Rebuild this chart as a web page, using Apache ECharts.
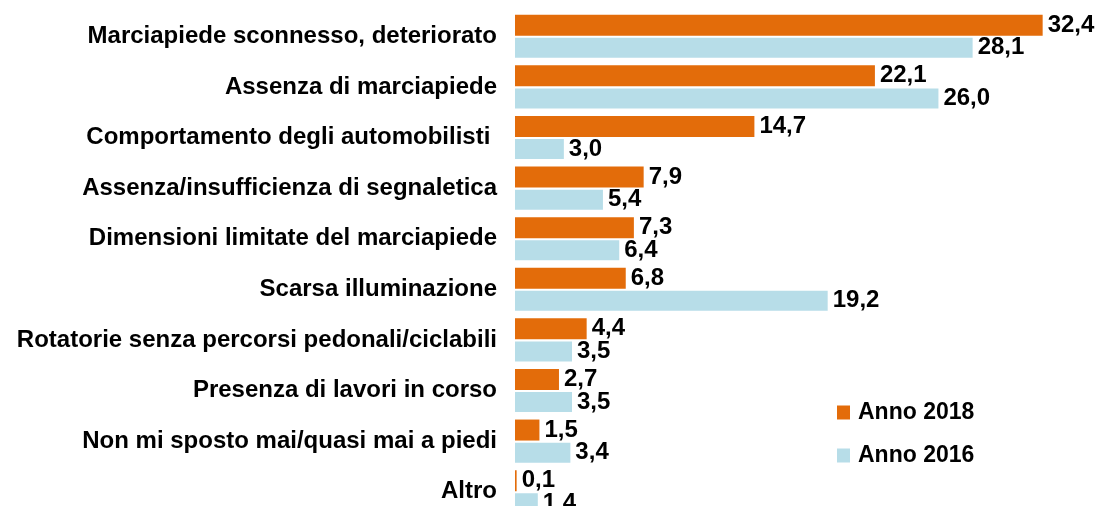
<!DOCTYPE html>
<html><head><meta charset="utf-8">
<script src="https://cdn.jsdelivr.net/npm/echarts@6/dist/echarts.min.js"></script>
<style>html,body{margin:0;padding:0;background:#fff}#c{width:1095px;height:506px}</style>
</head><body><div id="c"></div>
<script>
const categories = [
  'Marciapiede sconnesso, deteriorato',
  'Assenza di marciapiede',
  'Comportamento degli automobilisti ',
  'Assenza/insufficienza di segnaletica',
  'Dimensioni limitate del marciapiede',
  'Scarsa illuminazione',
  'Rotatorie senza percorsi pedonali/ciclabili',
  'Presenza di lavori in corso',
  'Non mi sposto mai/quasi mai a piedi',
  'Altro'
];
const anno2018 = [32.4, 22.1, 14.7, 7.9, 7.3, 6.8, 4.4, 2.7, 1.5, 0.1];
const anno2016 = [28.1, 26.0, 3.0, 5.4, 6.4, 19.2, 3.5, 3.5, 3.4, 1.4];
const seriesNames = ['Anno 2018', 'Anno 2016'];

const FONT = '"Liberation Sans", Arial, Helvetica, sans-serif';
const fmt = p => p.value.toFixed(1).replace('.', ',');
const chart = echarts.init(document.getElementById('c'), null, {renderer: 'canvas'});
chart.setOption({
  animation: false,
  backgroundColor: '#fff',
  textStyle: {fontFamily: FONT},
  grid: {left: 515, top: 11, width: 570, height: 506, containLabel: false, outerBoundsMode: 'none'},
  legend: {
    orient: 'vertical', left: 832, top: 396, itemGap: 20,
    itemWidth: 13, itemHeight: 14, icon: 'rect',
    textStyle: {fontFamily: FONT, fontWeight: 'bold', fontSize: 23, color: '#000', padding: [0,0,0,3]},
    data: seriesNames
  },
  xAxis: {type: 'value', min: 0, max: 35, show: false},
  yAxis: {
    type: 'category', inverse: true, data: categories,
    axisLine: {show: false}, axisTick: {show: false},
    axisLabel: {fontFamily: FONT, fontWeight: 'bold', fontSize: 24, color: '#000', margin: 18}
  },
  series: [
    {name: seriesNames[0], type: 'bar', data: anno2018, barWidth: 21, barGap: '10%',
     itemStyle: {color: '#E36C0A'},
     label: {show: true, position: 'right', distance: 5, formatter: fmt, fontFamily: FONT, fontWeight: 'bold', fontSize: 24, color: '#000'}},
    {name: seriesNames[1], type: 'bar', data: anno2016, barWidth: 20,
     itemStyle: {color: '#B7DDE8'},
     label: {show: true, position: 'right', distance: 5, formatter: fmt, fontFamily: FONT, fontWeight: 'bold', fontSize: 24, color: '#000'}}
  ]
});
</script></body></html>
